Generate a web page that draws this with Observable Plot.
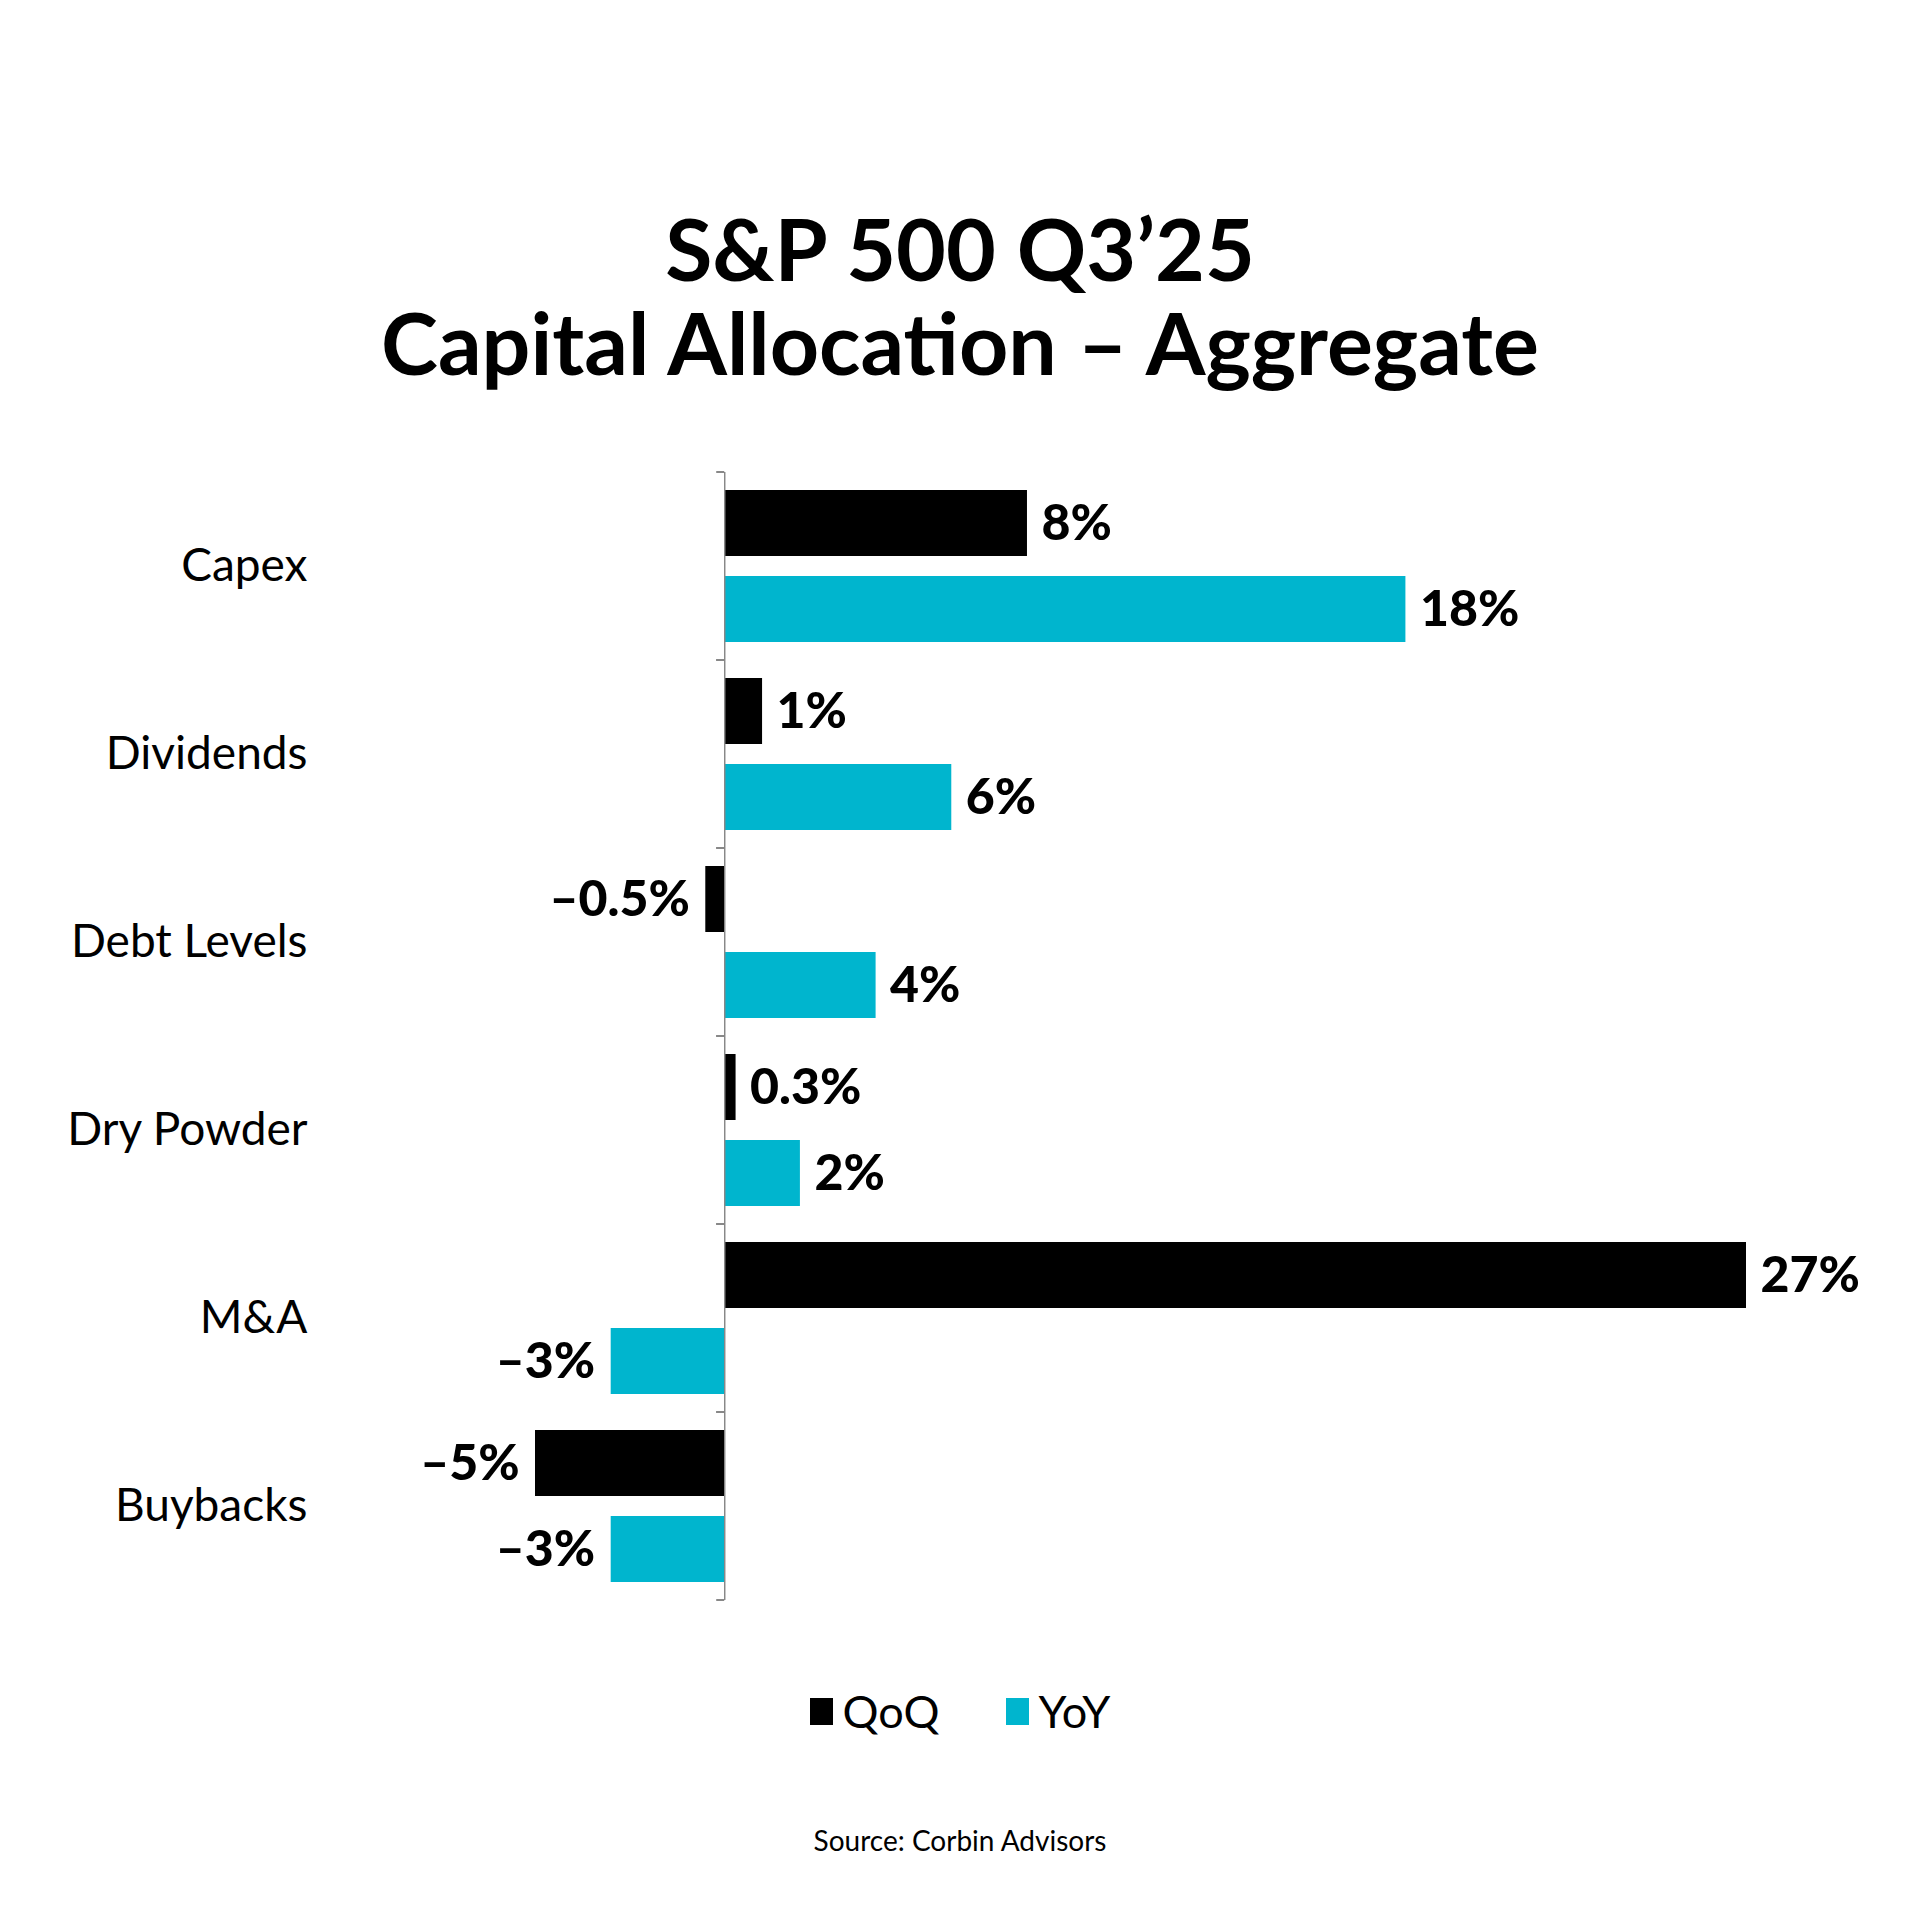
<!DOCTYPE html>
<html>
<head>
<meta charset="utf-8">
<script src="https://cdn.jsdelivr.net/npm/d3@7"></script>
<script src="https://cdn.jsdelivr.net/npm/@observablehq/plot@0.6"></script>
<style>
  body { margin: 0; background: #fff; font-family: Lato, "Open Sans", sans-serif; color: #000; }
  #wrap { position: relative; width: 1920px; height: 1920px; overflow: hidden; background: #fff; }
  #title { position: absolute; top: 201px; left: 0; width: 1920px; text-align: center;
           font-weight: 700; font-size: 86px; line-height: 94px; }
  #chart { position: absolute; top: 415px; left: 0; }
  #legend { position: absolute; top: 1684px; left: 0; width: 1920px; display: flex; justify-content: center;
            align-items: center; gap: 66px; font-size: 45px; }
  #legend .item { display: flex; align-items: center; gap: 10px; }
  #legend .sw { width: 23px; height: 27px; display: inline-block; }
  #source { position: absolute; top: 1823px; left: 0; width: 1920px; text-align: center; font-size: 28px; }
</style>
</head>
<body>
<div id="wrap">
  <div id="title">S&amp;P 500 Q3’25<br>Capital Allocation – Aggregate</div>
  <div id="chart"></div>
  <div id="legend"></div>
  <div id="source">Source: Corbin Advisors</div>
</div>
<script>
const categories = ["Capex", "Dividends", "Debt Levels", "Dry Powder", "M&A", "Buybacks"];
const series = ["QoQ", "YoY"];
const qoq = [8, 1, -0.5, 0.3, 27, -5];
const yoy = [18, 6, 4, 2, -3, -3];
const colors = ["#000000", "#00B5CE"];

const data = categories.flatMap((c, i) => [
  {category: c, series: "QoQ", value: qoq[i]},
  {category: c, series: "YoY", value: yoy[i]}
]);

const fmt = v => (v < 0 ? "–" : "") + Math.abs(v) + "%";

// small tick marks on the zero axis at every category boundary
function boundaryTicks(index, scales, values, dimensions) {
  const g = document.createElementNS("http://www.w3.org/2000/svg", "g");
  const x0 = scales.x(0);
  const top = dimensions.marginTop;
  const bottom = dimensions.height - dimensions.marginBottom;
  for (const y of [top, bottom]) {
    const l = document.createElementNS("http://www.w3.org/2000/svg", "line");
    l.setAttribute("x1", x0 - 8);
    l.setAttribute("x2", x0);
    l.setAttribute("y1", y);
    l.setAttribute("y2", y);
    l.setAttribute("stroke", "#888");
    l.setAttribute("stroke-width", 2);
    g.appendChild(l);
  }
  return g;
}

const chart = Plot.plot({
  width: 1920,
  height: 1206,
  marginTop: 56,
  marginBottom: 20,
  marginLeft: 535,
  marginRight: 174,
  x: {domain: [-5, 27], axis: null},
  y: {domain: series, paddingInner: 0.229, paddingOuter: 0.207, axis: null},
  fy: {domain: categories, padding: 0, axis: null},
  color: {domain: series, range: colors},
  style: {fontFamily: "Lato, 'Open Sans', sans-serif", color: "#000", background: "#fff", overflow: "visible"},
  marks: [
    Plot.axisFy({anchor: "left", tickSize: 0, tickPadding: 228, fontSize: 46, label: null}),
    Plot.barX(data, {fy: "category", y: "series", x: "value", fill: "series"}),
    Plot.ruleX([0], {stroke: "#888", strokeWidth: 1.5}),
    boundaryTicks,
    Plot.text(data.filter(d => d.value >= 0), {
      fy: "category", y: "series", x: "value", text: d => fmt(d.value),
      textAnchor: "start", dx: 14, fontSize: 50, fontWeight: 900, fill: "#000"
    }),
    Plot.text(data.filter(d => d.value < 0), {
      fy: "category", y: "series", x: "value", text: d => fmt(d.value),
      textAnchor: "end", dx: -16, fontSize: 50, fontWeight: 900, fill: "#000"
    })
  ]
});
document.getElementById("chart").appendChild(chart);

const legend = document.getElementById("legend");
series.forEach((s, i) => {
  const item = document.createElement("div");
  item.className = "item";
  const sw = document.createElement("span");
  sw.className = "sw";
  sw.style.background = colors[i];
  const t = document.createElement("span");
  t.textContent = s;
  item.appendChild(sw);
  item.appendChild(t);
  legend.appendChild(item);
});
</script>
</body>
</html>
